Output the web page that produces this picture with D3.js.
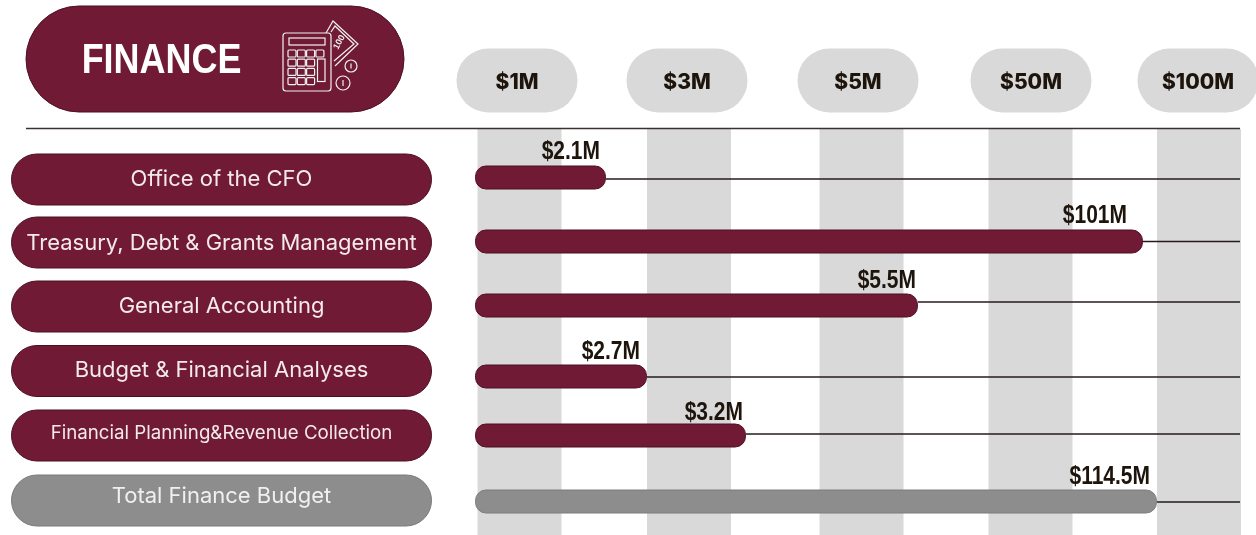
<!DOCTYPE html>
<html><head><meta charset="utf-8">
<script src="https://cdn.jsdelivr.net/npm/d3@7/dist/d3.min.js"></script>
<style>html,body{margin:0;background:#fff;overflow:hidden}svg{display:block;filter:blur(.35px)}</style>
</head><body><svg id="c" width="1256" height="535"></svg>
<script>
const title = "FINANCE";
const tickLabels = ["$1M","$3M","$5M","$50M","$100M"];
const categories = ["Office of the CFO","Treasury, Debt & Grants Management","General Accounting","Budget & Financial Analyses","Financial Planning&Revenue Collection","Total Finance Budget"];
const values = [2.1,101,5.5,2.7,3.2,114.5];
const valueLabels = ["$2.1M","$101M","$5.5M","$2.7M","$3.2M","$114.5M"];

const MAROON="#701a36", EDGE="#4d0f24", GREY="#8d8d8d", LIGHT="#d9d9d9", INK="#1d140c";
const svg=d3.select("#c");
const bold="'Liberation Sans',Arial,sans-serif";

// The source's axis is not linear: knots follow its drawn bar lengths
const x=d3.scaleLinear().domain([0,2.1,2.7,3.2,5.5,101,114.5]).range([475,606,647,746,918,1143,1157]);
const bandX=d3.scaleOrdinal().domain(tickLabels).range([519.5,689,861.5,1030.5,1199]);
const pillX=d3.scaleOrdinal().domain(tickLabels).range([517,687,858,1031,1198]);
const rowY=d3.scaleOrdinal().domain(categories).range([179.5,242.5,306.5,371,435.5,500.5]);
const barY=d3.scaleOrdinal().domain(categories).range([177.5,241.5,305.5,376.5,435.5,501.5]);
const lineY=d3.scaleOrdinal().domain(categories).range([179,241.5,302,377,434,502]);
const textY=d3.scaleOrdinal().domain(categories).range([185.5,249.5,312.5,376.5,438.5,503]);
const leftSize=d3.scaleOrdinal().domain(categories).range([22,22,22,22,18.7,22]);
const labelEnd=d3.scaleOrdinal().domain(categories).range([600,1127,916,640,743,1150]);
const labelBase=d3.scaleOrdinal().domain(categories).range([159,223,288,359,420,484]);

// column bands
svg.append("g").selectAll("rect").data(tickLabels).join("rect")
 .attr("x",d=>bandX(d)-42).attr("y",129).attr("width",84).attr("height",406).attr("fill",LIGHT);

// header line
svg.append("line").attr("x1",26).attr("x2",1240).attr("y1",128.5).attr("y2",128.5).attr("stroke","#3a3232").attr("stroke-width",1.5);

// title pill
svg.append("rect").attr("x",26).attr("y",6).attr("width",378).attr("height",106).attr("rx",53).attr("fill",MAROON).attr("stroke",EDGE);
svg.append("text").text(title).attr("transform","translate(161.5,73) scale(.856,1)").attr("text-anchor","middle")
 .attr("font-family",bold).attr("font-weight",700).attr("font-size",42).attr("fill","#fff");

// calculator icon
const ic=svg.append("g").attr("fill","none").attr("stroke","#f2f2f2").attr("stroke-width",1.2);
ic.append("path").attr("d","M326 33 L333 21 L358 44 L335 66 M331 32 L335 26 L354 44 L334 61");
ic.append("text").text("100").attr("transform","translate(338,50) rotate(-62)").attr("font-size",9).attr("font-weight",700).attr("font-family",bold).attr("fill","#f2f2f2").attr("stroke","none");
ic.append("rect").attr("x",283).attr("y",33).attr("width",48).attr("height",58).attr("rx",3).attr("fill",MAROON);
ic.append("rect").attr("x",289).attr("y",38).attr("width",36).attr("height",7);
const keys=ic.append("g");
d3.range(4).forEach(r=>d3.range(4).forEach(c=>{
  if(c===3&&r>0) return;
  keys.append("rect").attr("x",288+c*9.3).attr("y",50+r*9.2).attr("width",8).attr("height",7).attr("rx",1);
}));
ic.append("rect").attr("x",317.5).attr("y",59).attr("width",7.5).attr("height",22.5);
ic.append("circle").attr("cx",351).attr("cy",66).attr("r",6);
ic.append("circle").attr("cx",343).attr("cy",83).attr("r",7);
ic.append("path").attr("d","M351 63.5V68.5M343 80V86");

// tick pills
const tp=svg.append("g").selectAll("g").data(tickLabels).join("g").attr("transform",d=>`translate(${pillX(d)},80.5)`);
tp.append("rect").attr("x",-60.5).attr("y",-32).attr("width",121).attr("height",64).attr("rx",32).attr("fill",LIGHT);
tp.append("text").text(d=>d).attr("text-anchor","middle").attr("y",8).attr("font-family","Inter,'Liberation Sans',sans-serif")
 .attr("font-weight",800).attr("font-size",21).attr("fill",INK);

// rows
const rows=categories.map((c,i)=>({c,v:values[i],l:valueLabels[i],total:i===categories.length-1}));
const lp=svg.append("g").selectAll("g").data(rows).join("g");
lp.append("rect").attr("x",11.5).attr("y",d=>rowY(d.c)-25.5).attr("width",420).attr("height",51).attr("rx",25.5)
 .attr("fill",d=>d.total?GREY:MAROON).attr("stroke",d=>d.total?"#7a7a7a":EDGE);
lp.append("text").text(d=>d.c).attr("x",221.5).attr("y",d=>textY(d.c)).attr("text-anchor","middle")
 .attr("font-family","Inter,'Noto Sans',sans-serif").attr("font-size",d=>leftSize(d.c)).attr("fill",d=>d.total?"#f0f0f0":"#f4eaec");

// connector lines, bars, labels
const g=svg.append("g");
g.selectAll("line").data(rows).join("line")
 .attr("x1",d=>x(d.v)).attr("x2",1240).attr("y1",d=>lineY(d.c)).attr("y2",d=>lineY(d.c))
 .attr("stroke","#241a1c").attr("stroke-width",1.3);
g.selectAll("rect").data(rows).join("rect")
 .attr("x",x(0)+.5).attr("y",d=>barY(d.c)-11.5).attr("width",d=>x(d.v)-x(0)-1).attr("height",23).attr("rx",10.5)
 .attr("fill",d=>d.total?GREY:MAROON).attr("stroke",d=>d.total?"#7d7d7d":EDGE);
g.selectAll("text").data(rows).join("text").text(d=>d.l)
 .attr("transform",d=>`translate(${labelEnd(d.c)},${labelBase(d.c)}) scale(.84,1)`).attr("text-anchor","end")
 .attr("font-family",bold).attr("font-weight",700).attr("font-size",25).attr("fill",INK);
</script></body></html>
